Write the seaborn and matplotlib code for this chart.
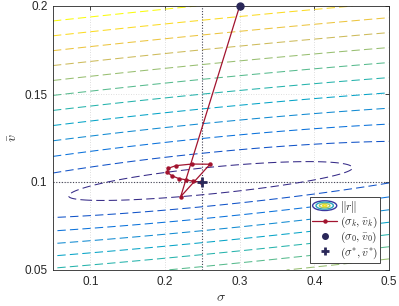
import numpy as np
import pandas as pd
import matplotlib
matplotlib.use("Agg")
import matplotlib.pyplot as plt
import seaborn as sns
from matplotlib.colors import LinearSegmentedColormap
from matplotlib.patches import Ellipse, Rectangle
from matplotlib.legend_handler import HandlerBase
from matplotlib.lines import Line2D

# ---------------- data ----------------
# Newton-type iterates (sigma_k, vbar_k)
sigma_iter = [0.300, 0.2210, 0.2603, 0.2358, 0.2147, 0.2044, 0.2031, 0.2090,
              0.2188, 0.2277, 0.2379, 0.2480]
v_iter = [0.200, 0.0917, 0.1101, 0.1102, 0.1093, 0.1078, 0.1055, 0.1036,
          0.1019, 0.1013, 0.1004, 0.1000]
sigma0, v0 = 0.30, 0.20          # starting point
sigma_star, v_star = 0.25, 0.10  # solution

# residual-norm field parameters
valley_sigma = 0.261
valley_v = 0.100
valley_slope = 0.042
sigma_scale = 0.19
v_scale_up = 0.0084
v_scale_down = 0.0068
contour_levels = [1, 2, 3, 4, 5, 6, 7, 8, 9, 10, 11, 12]

x_ticks = [0.1, 0.2, 0.3, 0.4, 0.5]
y_ticks = [0.05, 0.1, 0.15, 0.2]
x_ticklabels = ["0.1", "0.2", "0.3", "0.4", "0.5"]
y_ticklabels = ["0.05", "0.1", "0.15", "0.2"]
legend_labels = [r"$\Vert r\Vert$", r"$(\sigma_k,\bar{v}_k)$",
                 r"$(\sigma_0,\bar{v}_0)$", r"$(\sigma^{*},\bar{v}^{*})$"]

# ---------------- style ----------------
sns.set_style("white")
plt.rcParams["font.family"] = ["Liberation Sans", "DejaVu Sans"]
plt.rcParams["mathtext.fontset"] = "cm"

parula = LinearSegmentedColormap.from_list(
    "parula", ["#352a87", "#0363e1", "#1485d4", "#06a7c6", "#38b99e",
               "#92bf73", "#d9ba56", "#fcce2e", "#f9fb0e"])

fig = plt.figure(figsize=(3.99, 3.06), dpi=100)
ax = fig.add_axes([53 / 399, 36 / 306, 336 / 399, 264 / 306])

# contour field
S, V = np.meshgrid(np.linspace(0.05, 0.5, 500), np.linspace(0.05, 0.2, 500))
dv = V - valley_v - valley_slope * (S - valley_sigma)
dv = np.where(dv > 0, dv / v_scale_up, dv / v_scale_down)
Z = np.sqrt(dv ** 2 + ((S - valley_sigma) / sigma_scale) ** 2)
cs = ax.contour(S, V, Z, levels=contour_levels, cmap=parula,
                vmin=contour_levels[0], vmax=contour_levels[-1],
                linewidths=0.75)
cs.set_linestyle((0, (8, 4)))

# grid and reference lines
for xt in x_ticks[:-1]:
    ax.axvline(xt, color="#d4d4d4", lw=0.6, ls=(0, (1, 2)), zorder=0)
for yt in y_ticks[1:-1]:
    ax.axhline(yt, color="#d4d4d4", lw=0.6, ls=(0, (1, 2)), zorder=0)
ax.axvline(sigma_star, color="#444455", lw=0.8, ls=(0, (1, 1.5)), zorder=1)
ax.axhline(v_star, color="#444455", lw=0.8, ls=(0, (1, 1.5)), zorder=1)

# iterates
df = pd.DataFrame({"sigma": sigma_iter, "v": v_iter, "k": range(len(sigma_iter))})
sns.lineplot(data=df, x="sigma", y="v", sort=False, estimator=None, ax=ax,
             color="#a2142f", lw=0.9, marker="o", markersize=3.2,
             markeredgewidth=0, zorder=3)
ax.plot([sigma0], [v0], "o", color="#2a2859", markersize=5, zorder=5,
        clip_on=False)
ax.plot([sigma_star], [v_star], "+", color="#2a2859", markersize=7,
        markeredgewidth=2, zorder=5)

ax.set_xlim(0.05, 0.5)
ax.set_ylim(0.05, 0.2)
ax.set_xticks(x_ticks)
ax.set_xticklabels(x_ticklabels)
ax.set_yticks(y_ticks)
ax.set_yticklabels(y_ticklabels)
ax.tick_params(direction="in", length=3, width=0.6, top=True, right=True,
               labelsize=8.5, colors="#262626", pad=4)
for sp in ax.spines.values():
    sp.set_color("#262626")
    sp.set_linewidth(0.6)
ax.set_xlabel(r"$\sigma$", fontsize=10, labelpad=2)
ax.set_ylabel(r"$\bar{v}$", fontsize=10, labelpad=3)


# legend with contour icon
class HandlerContour(HandlerBase):
    def create_artists(self, legend, orig_handle, xdescent, ydescent, width,
                       height, fontsize, trans):
        cx = width / 2 - xdescent
        cy = height / 2 - ydescent
        arts = []
        for frac, col in zip([1.0, 0.72, 0.44, 0.18],
                             ["#3a3aa0", "#2aa6c0", "#a8c860", "#f0e020"]):
            e = Ellipse((cx, cy), width * frac * 0.95, height * 1.2 * frac,
                        fill=False, edgecolor=col, lw=1.0, transform=trans)
            arts.append(e)
        return arts


proxy = Rectangle((0, 0), 1, 1)
h_iter = Line2D([], [], color="#a2142f", lw=0.9, marker="o", markersize=3.2,
                markeredgewidth=0)
h_start = Line2D([], [], ls="none", marker="o", color="#2a2859", markersize=4)
h_star = Line2D([], [], ls="none", marker="+", color="#2a2859", markersize=6,
                markeredgewidth=2)
leg = ax.legend([proxy, h_iter, h_start, h_star], legend_labels,
                handler_map={proxy: HandlerContour()},
                loc="lower right", bbox_to_anchor=(0.973, 0.028),
                borderaxespad=0, fontsize=8.3, handlelength=2.2,
                handletextpad=0.2, labelspacing=0.0, borderpad=0.18,
                fancybox=False, framealpha=1, edgecolor="#262626")
leg.get_frame().set_linewidth(0.6)
leg.set_zorder(10)

fig.savefig("out.png", dpi=100)
